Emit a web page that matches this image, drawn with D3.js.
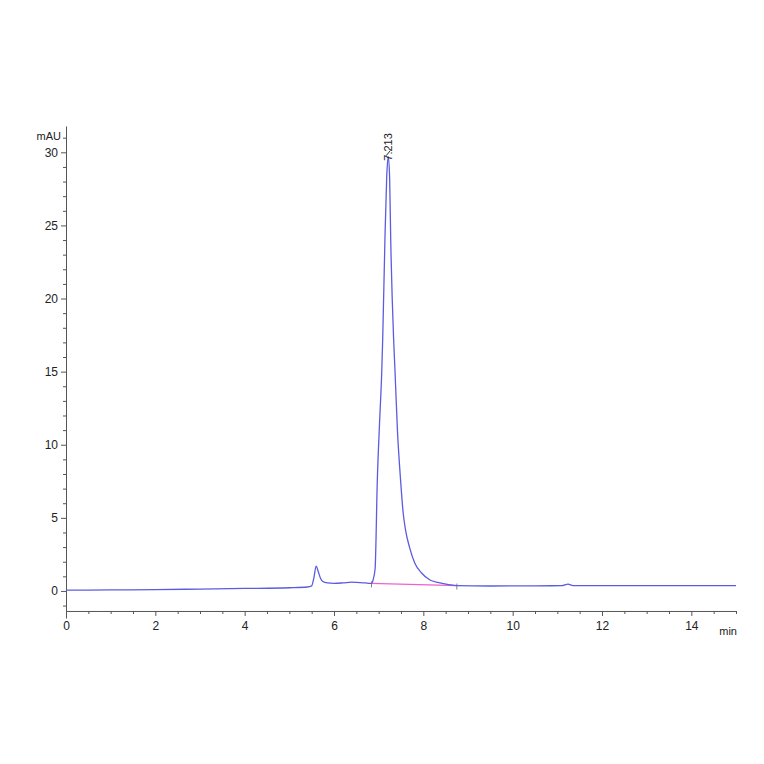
<!DOCTYPE html>
<html>
<head>
<meta charset="utf-8">
<script src="https://cdn.jsdelivr.net/npm/d3@7"></script>
<style>
  body { margin: 0; background: #fff; }
  .axis text { font-family: "Liberation Sans", Arial, sans-serif; font-size: 12px; fill: #222; }
  .axis path, .axis line { stroke: #555; }
</style>
</head>
<body>
<svg id="chrom" width="764" height="764"></svg>
<script>
// trace: retention time (min) and absorbance (mAU)
var times = [0, 1, 2, 3, 4, 5, 5.4, 5.5, 5.55, 5.6, 5.65, 5.7, 5.75, 5.85, 6.0, 6.2, 6.4, 6.5, 6.7, 6.8,
             6.84, 6.87, 6.92, 6.97, 7.02, 7.07, 7.09, 7.14, 7.18, 7.213, 7.245, 7.27, 7.335, 7.365, 7.42,
             7.49, 7.55, 7.6, 7.69, 7.81, 7.96, 8.15, 8.37, 8.6, 8.75, 9.5, 10.5, 11.1, 11.24, 11.35,
             12, 13, 14, 15];
var signal = [0.05, 0.07, 0.09, 0.13, 0.17, 0.22, 0.27, 0.35, 0.9, 1.7, 1.3, 0.85, 0.65, 0.55, 0.52, 0.55, 0.6, 0.58, 0.55, 0.52,
              0.52, 0.7, 1.5, 7.6, 11.5, 15.1, 17.2, 24.0, 28.3, 29.7, 28.3, 24.0, 17.2, 15.1, 11.0,
              7.6, 5.3, 4.2, 3.0, 1.9, 1.23, 0.75, 0.55, 0.42, 0.37, 0.34, 0.35, 0.36, 0.47, 0.37,
              0.36, 0.36, 0.36, 0.36];

// integration baseline of the main peak
var baseTimes = [6.84, 8.75];
var baseSignal = [0.52, 0.37];

var peakTime = 7.213;
var peakLabel = "7.213";

var xTicks = [0, 2, 4, 6, 8, 10, 12, 14];
var yTicks = [0, 5, 10, 15, 20, 25, 30];

var svg = d3.select("#chrom");

var x = d3.scaleLinear().domain([0, 15]).range([66, 736]);
var y = d3.scaleLinear().domain([-1.85, 31.8]).range([618, 126]);

var xAxisY = y(-1.37);

var minorX = d3.range(0, 15.01, 0.5).filter(function(d) { return d % 2 != 0; });
var minorY = d3.range(-1, 31.01, 1).filter(function(d) { return d % 5 != 0; });

// minor ticks
svg.append("g")
    .attr("class", "axis")
    .attr("transform", "translate(0," + xAxisY + ")")
    .call(d3.axisBottom(x).tickValues(minorX).tickSize(3).tickSizeOuter(0).tickFormat(""))
    .select(".domain").remove();

svg.append("g")
    .attr("class", "axis")
    .attr("transform", "translate(66,0)")
    .call(d3.axisLeft(y).tickValues(minorY).tickSize(3).tickSizeOuter(0).tickFormat(""))
    .select(".domain").remove();

// major axes
svg.append("g")
    .attr("class", "axis")
    .attr("transform", "translate(0," + xAxisY + ")")
    .call(d3.axisBottom(x).tickValues(xTicks).tickSize(5).tickSizeOuter(0).tickPadding(6)
        .tickFormat(d3.format("d")));

svg.append("g")
    .attr("class", "axis")
    .attr("transform", "translate(66,0)")
    .call(d3.axisLeft(y).tickValues(yTicks).tickSize(5).tickSizeOuter(0).tickPadding(3)
        .tickFormat(d3.format("d")));

// unit labels
svg.append("text")
    .attr("x", 61)
    .attr("y", 140)
    .attr("text-anchor", "end")
    .style("font-family", "Liberation Sans, Arial, sans-serif")
    .style("font-size", "11px")
    .attr("fill", "#222")
    .text("mAU");

svg.append("text")
    .attr("x", 737)
    .attr("y", 635)
    .attr("text-anchor", "end")
    .style("font-family", "Liberation Sans, Arial, sans-serif")
    .style("font-size", "11px")
    .attr("fill", "#222")
    .text("min");

// baseline
var basePts = baseTimes.map(function(t, i) { return [t, baseSignal[i]]; });
svg.append("path")
    .datum(basePts)
    .attr("fill", "none")
    .attr("stroke", "#f060d0")
    .attr("stroke-width", 1.3)
    .attr("d", d3.line()
        .x(function(d) { return x(d[0]); })
        .y(function(d) { return y(d[1]); }));

// baseline end markers
svg.selectAll(".base-tick")
    .data(basePts)
  .enter().append("line")
    .attr("class", "base-tick")
    .attr("x1", function(d) { return x(d[0]); })
    .attr("x2", function(d) { return x(d[0]); })
    .attr("y1", function(d) { return y(d[1]) - 2; })
    .attr("y2", function(d) { return y(d[1]) + 4; })
    .attr("stroke", "#666")
    .attr("stroke-width", 0.8);

// trace
var pts = times.map(function(t, i) { return [t, signal[i]]; });
svg.append("path")
    .datum(pts)
    .attr("fill", "none")
    .attr("stroke", "#5c5ce0")
    .attr("stroke-width", 1.3)
    .attr("d", d3.line()
        .x(function(d) { return x(d[0]); })
        .y(function(d) { return y(d[1]); })
        .curve(d3.curveMonotoneX));

// peak label
var peakY = y(d3.max(signal));
svg.append("line")
    .attr("x1", x(peakTime) - 2)
    .attr("x2", x(peakTime) + 2)
    .attr("y1", peakY - 1)
    .attr("y2", peakY - 6)
    .attr("stroke", "#333")
    .attr("stroke-width", 1);

svg.append("text")
    .attr("transform", "translate(" + (x(peakTime) + 4) + "," + (peakY + 4) + ") rotate(-90)")
    .style("font-family", "Liberation Sans, Arial, sans-serif")
    .style("font-size", "11px")
    .attr("fill", "#222")
    .text(peakLabel);
</script>
</body>
</html>
